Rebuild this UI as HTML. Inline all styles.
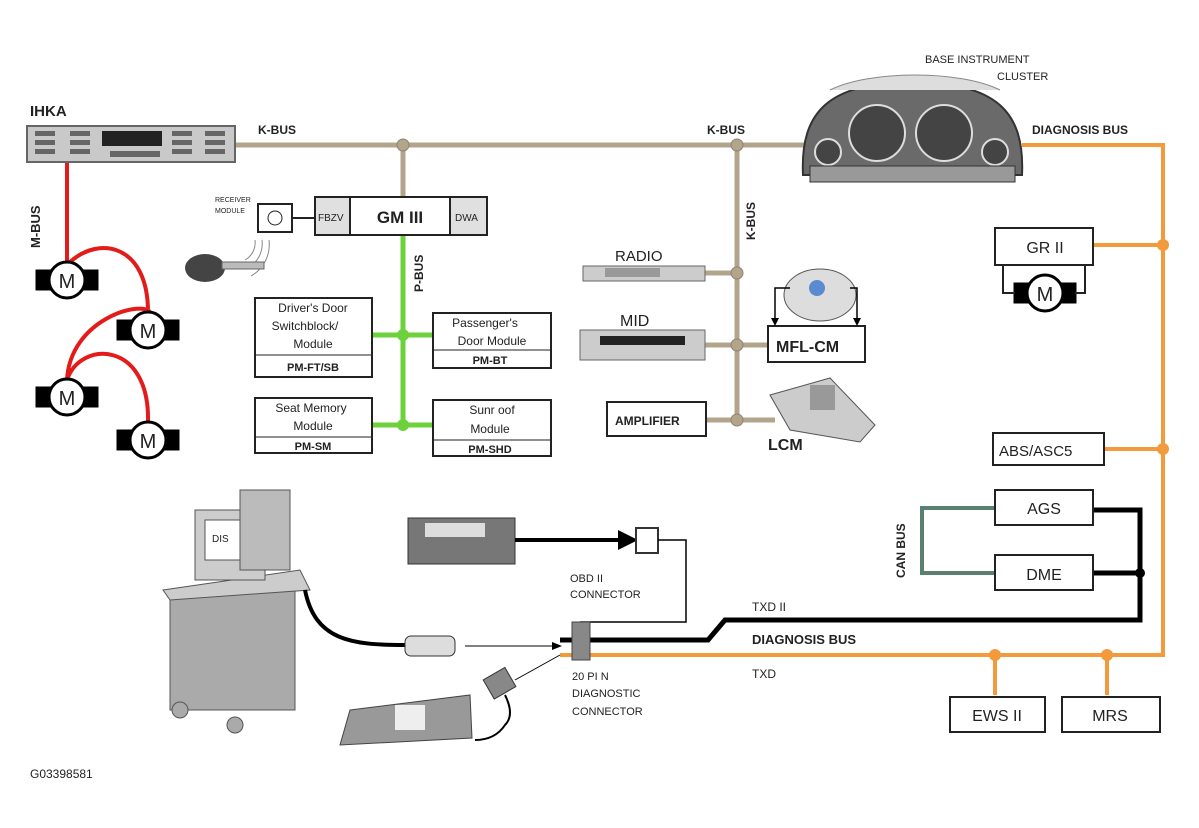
<!DOCTYPE html>
<html><head><meta charset="utf-8"><style>
html,body{margin:0;padding:0;background:#fff}
svg{display:block}
text{font-family:"Liberation Sans",Arial,sans-serif;fill:#222}
.b{font-weight:bold}
.box{fill:#fff;stroke:#222;stroke-width:2}
</style></head><body>
<svg width="1199" height="828" viewBox="0 0 1199 828" xmlns="http://www.w3.org/2000/svg">
<!-- K-BUS lines -->
<g stroke="#b3a48c" stroke-width="5" fill="none">
<line x1="235" y1="145" x2="808" y2="145"/>
<line x1="403" y1="145" x2="403" y2="197"/>
<line x1="737" y1="145" x2="737" y2="420"/>
<line x1="705" y1="273" x2="737" y2="273"/>
<line x1="705" y1="345" x2="768" y2="345"/>
<line x1="706" y1="420" x2="775" y2="420"/>
</g>
<g fill="#b3a48c" stroke="#8f8270"><circle cx="403" cy="145" r="6"/><circle cx="737" cy="145" r="6"/><circle cx="737" cy="273" r="6"/><circle cx="737" cy="345" r="6"/><circle cx="737" cy="420" r="6"/></g>
<!-- P-BUS -->
<g stroke="#6cd13a" stroke-width="5"><line x1="403" y1="235" x2="403" y2="425"/><line x1="372" y1="335" x2="433" y2="335"/><line x1="372" y1="425" x2="433" y2="425"/></g>
<g fill="#6cd13a"><circle cx="403" cy="335" r="6"/><circle cx="403" cy="425" r="6"/></g>
<!-- Diagnosis orange -->
<g stroke="#f39a3c" stroke-width="4" fill="none">
<polyline points="1022,145 1163,145 1163,655 560,655"/>
<line x1="1093" y1="245" x2="1163" y2="245"/>
<line x1="1104" y1="449" x2="1163" y2="449"/>
<line x1="995" y1="655" x2="995" y2="695"/>
<line x1="1107" y1="655" x2="1107" y2="695"/>
</g>
<g fill="#f39a3c"><circle cx="1163" cy="245" r="6"/><circle cx="1163" cy="449" r="6"/><circle cx="995" cy="655" r="6"/><circle cx="1107" cy="655" r="6"/></g>
<!-- black TXD II -->
<g stroke="#000" stroke-width="5" fill="none">
<polyline points="1093,510 1140,510 1140,620 725,620 708,640 560,640"/>
<line x1="1093" y1="573" x2="1140" y2="573"/>
</g>
<circle cx="1140" cy="573" r="5" fill="#000"/>
<polyline points="995,508 922,508 922,573 995,573" stroke="#5b8070" stroke-width="4" fill="none"/>
<!-- M-BUS -->
<g stroke="#e41b1b" stroke-width="4" fill="none">
<line x1="67" y1="162" x2="67" y2="262"/>
<path d="M70,262 C100,235 148,245 148,312"/>
<path d="M67,380 C70,320 140,300 150,312"/>
<path d="M67,380 C80,340 150,340 148,422"/>
</g>
<g id="motors" stroke="#000" stroke-width="3" fill="#fff">
<rect x="37" y="271" width="60" height="18" fill="#000"/><circle cx="67" cy="280" r="18"/>
<rect x="118" y="321" width="60" height="18" fill="#000"/><circle cx="148" cy="330" r="18"/>
<rect x="37" y="388" width="60" height="18" fill="#000"/><circle cx="67" cy="397" r="18"/>
<rect x="118" y="431" width="60" height="18" fill="#000"/><circle cx="148" cy="440" r="18"/>
<rect x="1015" y="284" width="60" height="18" fill="#000"/><circle cx="1045" cy="293" r="18"/>
</g>
<g font-size="20" text-anchor="middle"><text x="67" y="288">M</text><text x="148" y="338">M</text><text x="67" y="405">M</text><text x="148" y="448">M</text><text x="1045" y="301">M</text></g>
<text class="b" font-size="13" transform="translate(40,248) rotate(-90)">M-BUS</text>
<!-- IHKA -->
<text class="b" x="30" y="116" font-size="15" fill="#553322">IHKA</text>
<rect x="27" y="126" width="208" height="36" fill="#c9c9c9" stroke="#666" stroke-width="2"/>
<rect x="102" y="131" width="60" height="15" fill="#222"/>
<g fill="#666"><rect x="35" y="131" width="20" height="5"/><rect x="35" y="140" width="20" height="5"/><rect x="35" y="149" width="20" height="5"/><rect x="70" y="131" width="20" height="5"/><rect x="70" y="140" width="20" height="5"/><rect x="70" y="149" width="20" height="5"/><rect x="172" y="131" width="20" height="5"/><rect x="172" y="140" width="20" height="5"/><rect x="172" y="149" width="20" height="5"/><rect x="205" y="131" width="20" height="5"/><rect x="205" y="140" width="20" height="5"/><rect x="205" y="149" width="20" height="5"/><rect x="110" y="151" width="50" height="6"/></g>
<text class="b" x="258" y="134" font-size="12">K-BUS</text>
<text class="b" x="707" y="134" font-size="12">K-BUS</text>
<text class="b" font-size="12" transform="translate(755,240) rotate(-90)">K-BUS</text>
<!-- cluster -->
<path d="M803,175 C800,110 830,83 912,82 C995,83 1025,110 1022,175 Z" fill="#6a6a6a" stroke="#333" stroke-width="2"/>
<path d="M830,90 C870,70 960,70 1000,90" fill="#ddd" stroke="#888"/>
<g fill="#444" stroke="#ddd" stroke-width="2"><circle cx="877" cy="133" r="28"/><circle cx="944" cy="133" r="28"/><circle cx="828" cy="152" r="13"/><circle cx="995" cy="152" r="13"/></g>
<rect x="810" y="166" width="205" height="16" fill="#999" stroke="#333"/>
<text x="925" y="63" font-size="11">BASE   INSTRUMENT</text>
<text x="997" y="80" font-size="11">CLUSTER</text>
<text class="b" x="1032" y="134" font-size="12">DIAGNOSIS BUS</text>
<!-- GM III -->
<rect class="box" x="315" y="197" width="172" height="38"/>
<rect x="316" y="198" width="34" height="36" fill="#e0e0e0"/><rect x="451" y="198" width="35" height="36" fill="#e0e0e0"/>
<line x1="350" y1="197" x2="350" y2="235" stroke="#222" stroke-width="2"/><line x1="450" y1="197" x2="450" y2="235" stroke="#222" stroke-width="2"/>
<text x="318" y="221" font-size="10">FBZV</text><text x="455" y="221" font-size="10">DWA</text>
<text class="b" x="400" y="223" font-size="17" text-anchor="middle">GM  III</text>
<rect class="box" x="258" y="204" width="34" height="28"/><circle cx="275" cy="218" r="7" fill="none" stroke="#222"/>
<line x1="292" y1="218" x2="315" y2="218" stroke="#222" stroke-width="2"/>
<text x="215" y="202" font-size="7">RECEIVER</text><text x="215" y="213" font-size="7">MODULE</text>
<g stroke="#888" fill="none"><path d="M255,240 a20,20 0 0 1 -10,20"/><path d="M262,240 a28,28 0 0 1 -14,28"/><path d="M269,240 a36,36 0 0 1 -18,36"/></g>
<ellipse cx="205" cy="268" rx="20" ry="14" fill="#444"/><rect x="222" y="262" width="42" height="7" fill="#bbb" stroke="#666"/>
<text class="b" font-size="12" transform="translate(423,292) rotate(-90)">P-BUS</text>
<!-- P modules -->
<g font-size="12" fill="#3a3a1a" text-anchor="middle">
<rect class="box" x="255" y="298" width="117" height="79"/><line x1="255" y1="355" x2="372" y2="355" stroke="#222"/>
<text x="313" y="312">Driver's  Door</text><text x="305" y="330">Switchblock/</text><text x="313" y="348">Module</text><text class="b" x="313" y="371" font-size="11">PM-FT/SB</text>
<rect class="box" x="433" y="313" width="118" height="55"/><line x1="433" y1="350" x2="551" y2="350" stroke="#222"/>
<text x="485" y="327">Passenger's</text><text x="492" y="345">Door  Module</text><text class="b" x="490" y="364" font-size="11">PM-BT</text>
<rect class="box" x="255" y="398" width="117" height="55"/><line x1="255" y1="437" x2="372" y2="437" stroke="#222"/>
<text x="311" y="412">Seat  Memory</text><text x="313" y="430">Module</text><text class="b" x="313" y="450" font-size="11">PM-SM</text>
<rect class="box" x="433" y="400" width="118" height="56"/><line x1="433" y1="440" x2="551" y2="440" stroke="#222"/>
<text x="492" y="414">Sunr oof</text><text x="490" y="433">Module</text><text class="b" x="490" y="453" font-size="11">PM-SHD</text>
</g>
<!-- radio, mid, amp -->
<text x="615" y="261" font-size="15" fill="#333">RADIO</text>
<rect x="583" y="266" width="122" height="15" fill="#ccc" stroke="#666"/><rect x="605" y="268" width="55" height="9" fill="#999"/>
<text x="620" y="326" font-size="16" fill="#333">MID</text>
<rect x="580" y="330" width="125" height="30" fill="#ccc" stroke="#666"/><rect x="600" y="336" width="85" height="9" fill="#222"/>
<rect class="box" x="607" y="402" width="99" height="34"/><text class="b" x="615" y="425" font-size="12" fill="#333">AMPLIFIER</text>
<rect class="box" x="768" y="326" width="97" height="36"/><text class="b" x="776" y="352" font-size="16">MFL-CM</text>
<ellipse cx="820" cy="295" rx="36" ry="26" fill="#ddd" stroke="#555"/><circle cx="817" cy="288" r="8" fill="#5a8ad0"/>
<g stroke="#000" fill="none" stroke-width="1.5"><polyline points="790,288 775,288 775,324"/><polyline points="850,288 857,288 857,324"/></g>
<path d="M771,318 L779,318 L775,326Z M853,318 L861,318 L857,326Z"/>
<polygon points="770,395 830,378 875,425 860,442 790,430" fill="#ccc" stroke="#555"/>
<rect x="810" y="385" width="25" height="25" fill="#999"/>
<text class="b" x="768" y="450" font-size="16">LCM</text>
<!-- right modules -->
<rect class="box" x="995" y="228" width="98" height="37"/><text x="1045" y="253" font-size="16" text-anchor="middle">GR  II</text>
<polyline points="1003,265 1003,293 1015,293" stroke="#222" stroke-width="2" fill="none"/><polyline points="1085,265 1085,293 1075,293" stroke="#222" stroke-width="2" fill="none"/>
<rect class="box" x="993" y="433" width="111" height="32"/><text x="999" y="456" font-size="15">ABS/ASC5</text>
<rect class="box" x="995" y="490" width="98" height="35"/><text x="1044" y="514" font-size="16" text-anchor="middle">AGS</text>
<rect class="box" x="995" y="555" width="98" height="35"/><text x="1044" y="580" font-size="16" text-anchor="middle">DME</text>
<text class="b" font-size="12" transform="translate(905,578) rotate(-90)">CAN  BUS</text>
<rect class="box" x="950" y="697" width="95" height="35"/><text x="997" y="721" font-size="16" text-anchor="middle">EWS  II</text>
<rect class="box" x="1062" y="697" width="98" height="35"/><text x="1110" y="721" font-size="16" text-anchor="middle">MRS</text>
<text x="752" y="611" font-size="12">TXD  II</text>
<text class="b" x="752" y="644" font-size="13">DIAGNOSIS    BUS</text>
<text x="752" y="678" font-size="12">TXD</text>
<!-- OBD -->
<rect x="408" y="518" width="107" height="46" fill="#777" stroke="#333"/><rect x="425" y="523" width="60" height="14" fill="#ddd"/>
<line x1="515" y1="540" x2="625" y2="540" stroke="#000" stroke-width="4"/><path d="M618,530 L638,540 L618,550Z"/>
<rect x="636" y="528" width="22" height="25" fill="#fff" stroke="#333" stroke-width="2"/>
<polyline points="658,540 686,540 686,622 580,622" stroke="#000" stroke-width="1.5" fill="none"/>
<text x="570" y="582" font-size="11">OBD II</text><text x="570" y="598" font-size="11">CONNECTOR</text>
<rect x="572" y="622" width="18" height="38" fill="#888" stroke="#444"/>
<text x="572" y="680" font-size="11">20 PI N</text><text x="572" y="697" font-size="11">DIAGNOSTIC</text><text x="572" y="715" font-size="11">CONNECTOR</text>
<!-- DIS -->
<rect x="170" y="590" width="125" height="120" fill="#aaa" stroke="#555"/>
<polygon points="163,590 300,570 310,590 170,600" fill="#ccc" stroke="#555"/>
<rect x="195" y="510" width="70" height="70" fill="#ccc" stroke="#555"/><rect x="205" y="520" width="40" height="40" fill="#fff" stroke="#555"/>
<text x="212" y="542" font-size="10">DIS</text>
<rect x="240" y="490" width="50" height="80" fill="#bbb" stroke="#555"/>
<circle cx="180" cy="710" r="8" fill="#aaa" stroke="#555"/><circle cx="235" cy="725" r="8" fill="#aaa" stroke="#555"/>
<path d="M305,590 C315,640 350,645 405,645" stroke="#000" stroke-width="4" fill="none"/>
<rect x="405" y="636" width="50" height="20" rx="6" fill="#ddd" stroke="#333"/>
<line x1="465" y1="646" x2="556" y2="646" stroke="#000"/><path d="M552,642 L562,646 L552,650Z"/>
<path d="M515,680 L560,655" stroke="#000"/>
<rect x="487" y="672" width="25" height="22" fill="#888" stroke="#333" transform="rotate(-30 500 683)"/>
<polygon points="350,710 470,695 472,738 340,745" fill="#999" stroke="#444"/>
<rect x="395" y="705" width="30" height="25" fill="#eee"/>
<path d="M505,695 q10,20 0,30 q-10,15 -30,15" stroke="#000" stroke-width="2" fill="none"/>
<text x="30" y="778" font-size="12">G03398581</text>
</svg>
</body></html>
